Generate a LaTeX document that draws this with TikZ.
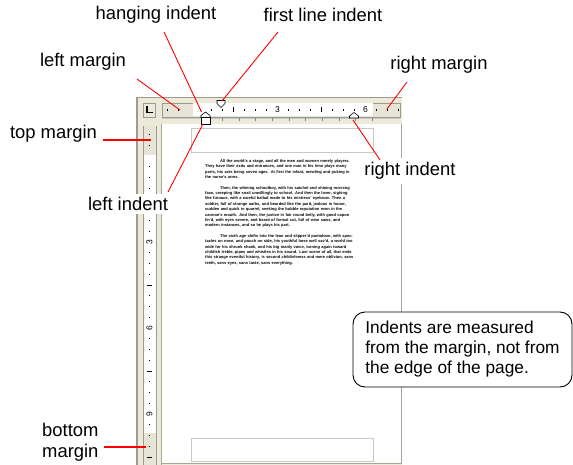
\documentclass[tikz,border=0pt]{standalone}
\usepackage{fontspec}
\setmainfont{Liberation Sans}
\usetikzlibrary{positioning}

\definecolor{framebeige}{HTML}{ECE9D8}
\definecolor{framedark}{HTML}{9D9A8E}
\definecolor{marginbeige}{HTML}{E6E3D7}
\definecolor{boxgray}{HTML}{C8C8C8}
\definecolor{pageedge}{HTML}{A8A498}

\tikzset{
  lbl/.style={font=\fontsize{18.4}{21}\selectfont, inner sep=2pt, fill=white},
  pointer/.style={red, line width=0.9pt},
  thickpointer/.style={red, line width=2pt},
  marker/.style={draw=black, fill=white, line width=0.6pt},
  rulernum/.style={font=\fontsize{8.5}{8.5}\selectfont, inner sep=0pt},
  bodytext/.style={font=\fontsize{4}{5.4}\selectfont\bfseries, inner sep=0pt,
    text width=149pt, align=left, anchor=north west}
}

\begin{document}
\begin{tikzpicture}[x=1pt,y=-1pt]
  \useasboundingbox (0,0) rectangle (573,465);

  % window frame
  \fill[framebeige] (136,97) rectangle (402,465);
  \draw[framedark, line width=1.5pt] (136.75,465) -- (136.75,97.75) -- (402,97.75);

  % tab selector
  \draw[framedark, fill=framebeige] (143,103) rectangle (155,117);
  \draw[line width=1.6pt] (147,106) -- (147,112.7) -- (152.5,112.7);

  % horizontal ruler
  \draw[framedark, fill=marginbeige] (162,103) rectangle (400,117);
  \fill[white] (193,103.5) rectangle (373,116.5);
  \draw[boxgray] (162,118.5) -- (400,118.5);
  \foreach \x in {222,238.7,255.4,272.1,288.8,305.5,322.2,338.9,355.6,372.3}
    \draw[gray] (\x,118.5) -- (\x,121);
  \foreach \k in {-2,-1,1,2,3,5,6,7,9,10,11,13,14,15,17,18,19}
    \draw[line width=0.8pt] ({189.5+11*\k},109) -- ({189.5+11*\k},110.6);
  \foreach \k in {4,12}
    \draw[line width=0.8pt] ({189.5+11*\k},107.5) -- ({189.5+11*\k},112);
  \node[rulernum] (hthree) at (277.5,110) {3};
  \node[rulernum] (hsix) at (365.5,110) {6};

  % vertical ruler
  \draw[framedark, fill=white] (143,126) rectangle (156,466);
  \fill[marginbeige] (143.5,126.5) rectangle (155.5,155);
  \fill[marginbeige] (143.5,433) rectangle (155.5,466);
  \foreach \k in {-2,-1,1,2,3,4,5,6,7,9,10,11,13,14,15,17,18,19,21,22,23,25,26,27}
    \draw[line width=0.8pt] (148.7,{156+10.75*\k}) -- (150.3,{156+10.75*\k});
  \foreach \k in {12,20,28}
    \draw[line width=0.8pt] (147.2,{156+10.75*\k}) -- (151.8,{156+10.75*\k});
  \node[rulernum, rotate=90] (vthree) at (149.5,242) {3};
  \node[rulernum, rotate=90] (vsix) at (149.5,328) {6};
  \node[rulernum, rotate=90] (vnine) at (149.5,414) {9};

  % page
  \fill[white] (162,124) rectangle (401,463);
  \draw[pageedge] (161.5,124) -- (161.5,466);
  \draw[pageedge] (401,124) -- (401,463) -- (161.5,463);
  \draw[boxgray] (191,128) rectangle (373,152);
  \draw[boxgray] (191,438) rectangle (373,461);

  % indent markers
  \draw[marker] (217,100.5) -- (225,100.5) -- (225,103.5) -- (221,107.5)
    -- (217,103.5) -- cycle;
  \draw[marker] (205.5,112) -- (210,115.5) -- (210,117.5) -- (201,117.5)
    -- (201,115.5) -- cycle;
  \draw[marker] (201,117.5) rectangle (210,124);
  \draw[marker] (354,112.5) -- (358.5,116) -- (358.5,118) -- (349.5,118)
    -- (349.5,116) -- cycle;

  \coordinate (firstmark) at (222,101);
  \coordinate (hangmark) at (201.5,112);
  \coordinate (leftmark) at (203,124);
  \coordinate (rightmark) at (353,120);
  \coordinate (lmarginpt) at (180,110);
  \coordinate (rmarginpt) at (387,109);
  \coordinate (tmarginpt) at (151,140);
  \coordinate (bmarginpt) at (146,447);

  % sample text
  \node[bodytext] (sample) at (205,159.5) {%
    \setlength{\parindent}{15pt}\setlength{\parskip}{5pt}\raggedright
    \hspace*{15pt}All the world's a stage, and all the men and women merely players.
    They have their exits and entrances, and one man in his time plays many
    parts, his acts being seven ages. At first the infant, mewling and puking in
    the nurse's arms.\par
    \hspace*{15pt}Then, the whining schoolboy, with his satchel and shining morning
    face, creeping like snail unwillingly to school. And then the lover, sighing
    like furnace, with a woeful ballad made to his mistress' eyebrow. Then a
    soldier, full of strange oaths, and bearded like the pard, jealous in honor,
    sudden and quick in quarrel, seeking the bubble reputation even in the
    cannon's mouth. And then, the justice in fair round belly, with good capon
    lin'd, with eyes severe, and beard of formal cut, full of wise saws, and
    modern instances, and so he plays his part.\par
    \hspace*{15pt}The sixth age shifts into the lean and slipper'd pantaloon, with
    spectacles on nose, and pouch on side, his youthful hose well sav'd, a world
    too wide for his shrunk shank, and his big manly voice, turning again toward
    childish treble, pipes and whistles in his sound. Last scene of all,
    that ends this strange eventful history, is second childishness and mere
    oblivion, sans teeth, sans eyes, sans taste, sans everything.};

  % labels
  \node[lbl] (hanging) at (156,15) {hanging indent};
  \node[lbl] (firstline) at (323,15) {first line indent};
  \node[lbl] (lmargin) at (83,62) {left margin};
  \node[lbl] (rmargin) at (439,65) {right margin};
  \node[lbl] (tmargin) at (53.5,134) {top margin};
  \node[lbl, inner sep=3pt] (lindent) at (128,204) {left indent};
  \node[lbl, inner sep=4pt] (rindent) at (410,171) {right indent};
  \node[lbl, align=left, anchor=west] (bmargin) at (40,442) {bottom\\margin};

  \coordinate (hangA) at (164,32);
  \coordinate (firstA) at (278,32);
  \coordinate (lmarginA) at (137,79);
  \coordinate (rmarginA) at (407,82);
  \coordinate (tmarginA) at (103,140);
  \coordinate (bmarginA) at (104,447);
  \coordinate (lindentA) at (168,192);
  \coordinate (rindentA) at (380,160);

  % pointers
  \draw[pointer] (hangA) -- (hangmark);
  \draw[pointer] (firstA) -- (firstmark);
  \draw[pointer] (lmarginA) -- (lmarginpt);
  \draw[pointer] (rmarginA) -- (rmarginpt);
  \draw[thickpointer] (tmarginA) -- (tmarginpt);
  \draw[thickpointer] (bmarginA) -- (bmarginpt);
  \draw[pointer] (lindentA) -- (leftmark);
  \draw[pointer] (rindentA) -- (rightmark);

  % note
  \node[draw, fill=white, rounded corners=12pt, line width=0.9pt,
    font=\fontsize{17.3}{20}\selectfont, align=left,
    minimum width=219pt, minimum height=75pt]
    (note) at (462.5,349.5)
    {Indents are measured\\from the margin, not from\\the edge of the page.};
\end{tikzpicture}
\end{document}
